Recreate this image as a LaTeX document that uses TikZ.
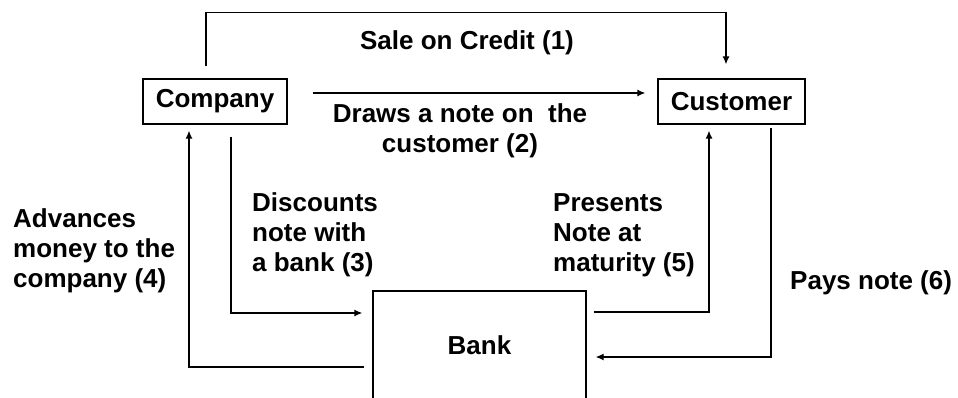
\documentclass[tikz,border=0pt]{standalone}
\usepackage{fontspec}
\setmainfont{Liberation Sans}
\usetikzlibrary{arrows.meta}
\begin{document}
\begin{tikzpicture}[x=1pt,y=1pt,
    box/.style={draw,line width=1.3pt,inner sep=0pt,font=\fontsize{26}{30}\selectfont\bfseries},
    flow/.style={line width=1.3pt,-{Latex[length=8pt,width=7pt]}},
    lbl/.style={inner sep=0pt,align=left,font=\fontsize{26}{30}\selectfont\bfseries}]
      \useasboundingbox (0,0) rectangle (958,397);
      \draw
        (215,295.5) node[box,minimum width=144pt,minimum height=45pt] (company){Company}
        (731.5,295.5) node[box,minimum width=147pt,minimum height=45pt] (customer){Customer}
        (479.5,52) node[box,minimum width=213pt,minimum height=108pt] (bank){Bank};
      \begin{scope}[lbl]
        \node[align=center] (sale) at (467,354) {Sale on Credit (1)};
        \node[align=center] (draws) at (460,266) {Draws a note on \ the\\customer (2)};
        \node[anchor=west] (discounts) at (252,162) {Discounts\\note with\\a bank (3)};
        \node[anchor=west] (advances) at (13,146) {Advances\\money to the\\company (4)};
        \node[anchor=west] (presents) at (553,162) {Presents\\Note at\\maturity (5)};
        \node[anchor=west] (pays) at (790,114) {Pays note (6)};
      \end{scope}
      \begin{scope}[flow]
        \draw ([xshift=-9pt,yshift=12pt]company.north)
          -- ([xshift=-9pt,yshift=66pt]company.north)
          -| ([xshift=-5.5pt,yshift=14pt]customer.north);
        \draw ([xshift=25pt,yshift=8.5pt]company.east) -- ([xshift=-12pt,yshift=8.5pt]customer.west);
        \draw ([xshift=16pt,yshift=-12pt]company.south) |- ([xshift=-10pt,yshift=32pt]bank.west);
        \draw ([xshift=-8pt,yshift=-22pt]bank.west) -| ([xshift=-26pt,yshift=-6pt]company.south);
        \draw ([xshift=7pt,yshift=33pt]bank.east) -| ([xshift=-22.5pt,yshift=-6pt]customer.south);
        \draw ([xshift=39.5pt,yshift=-3pt]customer.south) |- ([xshift=9pt,yshift=-12pt]bank.east);
      \end{scope}
    \end{tikzpicture}
\end{document}
